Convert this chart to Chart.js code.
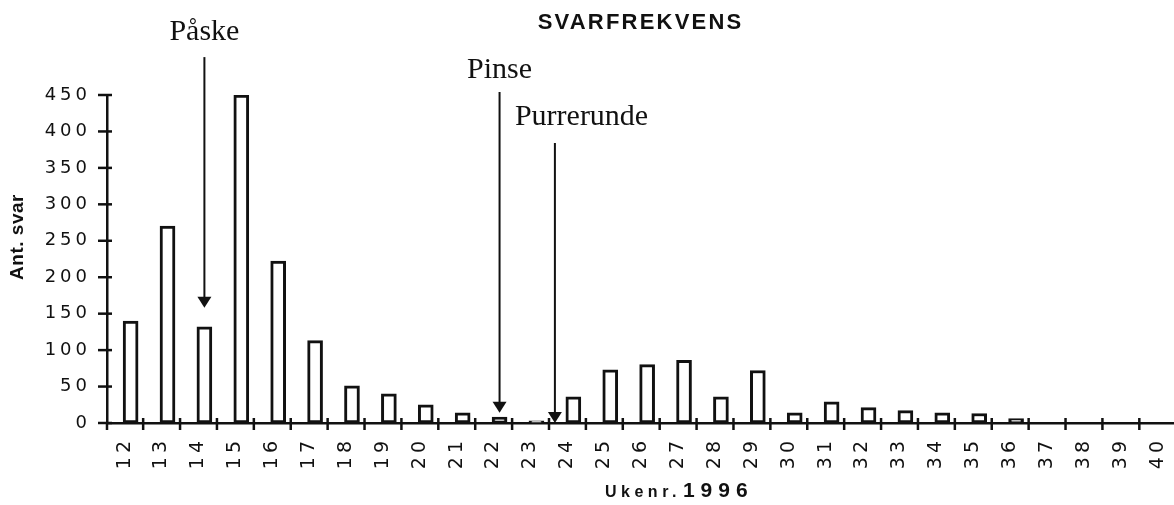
<!DOCTYPE html>
<html><head><meta charset="utf-8">
<script src="https://cdn.jsdelivr.net/npm/chart.js@4/dist/chart.umd.min.js"></script>
<style>html,body{margin:0;padding:0;background:#fff;overflow:hidden}#c{display:block}</style>
</head><body>
<canvas id="c" width="1174" height="505" style="width:1174px;height:505px"></canvas>
<script>
// ---- data ----
const weeks = [12,13,14,15,16,17,18,19,20,21,22,23,24,25,26,27,28,29,30,31,32,33,34,35,36,37,38,39,40];
const answers = [140,270,132,450,222,113,51,40,25,14,8,3,36,73,80,86,36,72,14,29,21,17,14,13,6,0,0,0,0];
const yTicks = [0,50,100,150,200,250,300,350,400,450];
const chartTitle = 'SVARFREKVENS';
const yTitle = 'Ant. svar';
const xTitleA = 'Ukenr.';
const xTitleB = '1996';
// annotations (arrows): label, week, arrow start value, arrow tip value
const noteLabels = ['Påske', 'Pinse', 'Purrerunde'];
const noteWeeks = [14, 22, 23.5];
const noteFrom = [502, 454, 384];
const noteTo = [158, 14, 0];

// ---- styles ----
const INK = '#111';
const noteStyle = [
  {align: 'center', dx: 0, dy: -17},
  {align: 'center', dx: 0, dy: -14},
  {align: 'left', dx: -40, dy: -18}
];

const decor = {
  id: 'decor',
  beforeDraw(chart) { chart.ctx.letterSpacing = '2.2px'; },
  afterDatasetsDraw(chart) { chart.ctx.letterSpacing = '4px'; },
  afterDraw(chart) {
    const ctx = chart.ctx;
    const xs = chart.scales.x, ys = chart.scales.y;
    const area = chart.chartArea;
    ctx.save();
    ctx.letterSpacing = '0px';
    ctx.strokeStyle = INK; ctx.fillStyle = INK;
    // y tick marks (crossing axis)
    ctx.lineWidth = 2.5;
    yTicks.forEach(v => {
      const y = ys.getPixelForValue(v);
      ctx.beginPath(); ctx.moveTo(area.left - 9, y); ctx.lineTo(area.left + 5, y); ctx.stroke();
    });
    // y axis extension below
    ctx.beginPath(); ctx.moveTo(area.left, area.bottom); ctx.lineTo(area.left, area.bottom + 7); ctx.stroke();
    // x tick marks (crossing axis)
    const step = xs.getPixelForValue(13) - xs.getPixelForValue(12);
    weeks.forEach(w => {
      const x = xs.getPixelForValue(w) + step * 0.34;
      if (x > area.right) return;
      ctx.beginPath(); ctx.moveTo(x, area.bottom - 5); ctx.lineTo(x, area.bottom + 7); ctx.stroke();
    });
    // arrows + labels
    noteLabels.forEach((lab, i) => {
      const x = xs.getPixelForValue(noteWeeks[i]);
      const y0 = ys.getPixelForValue(noteFrom[i]);
      const y1 = ys.getPixelForValue(noteTo[i]);
      ctx.lineWidth = 2;
      ctx.beginPath(); ctx.moveTo(x, y0); ctx.lineTo(x, y1 - 10); ctx.stroke();
      ctx.beginPath(); ctx.moveTo(x - 7, y1 - 11); ctx.lineTo(x + 7, y1 - 11); ctx.lineTo(x, y1); ctx.closePath(); ctx.fill();
      const st = noteStyle[i];
      ctx.font = '30px "Liberation Serif", "Times New Roman", serif';
      ctx.textAlign = st.align; ctx.textBaseline = 'alphabetic';
      ctx.fillText(lab, x + st.dx, y0 + st.dy);
    });
    // y axis title
    ctx.save();
    ctx.translate(17.5, 237);
    ctx.rotate(-Math.PI / 2);
    ctx.textAlign = 'center'; ctx.textBaseline = 'middle';
    ctx.font = 'bold 19px "Liberation Sans", Arial, sans-serif';
    ctx.letterSpacing = '0.5px';
    ctx.fillText(yTitle, 0, 0);
    ctx.restore();
    // x axis title
    ctx.textAlign = 'left'; ctx.textBaseline = 'alphabetic';
    ctx.font = 'bold 16px "Liberation Sans", Arial, sans-serif';
    ctx.letterSpacing = '4.5px';
    const xa = 605;
    ctx.fillText(xTitleA, xa, 497);
    const wa = ctx.measureText(xTitleA).width;
    ctx.font = 'bold 21px "Liberation Sans", Arial, sans-serif';
    ctx.letterSpacing = '6px';
    ctx.fillText(xTitleB, xa + wa + 2, 497);
    ctx.restore();
  }
};

new Chart(document.getElementById('c').getContext('2d'), {
  type: 'bar',
  data: {
    datasets: [{
      data: weeks.map((w, i) => ({x: w, y: answers[i]})),
      backgroundColor: '#fff',
      borderColor: INK,
      borderWidth: 3,
      borderSkipped: false,
      barThickness: 15
    }]
  },
  options: {
    responsive: false,
    animation: false,
    devicePixelRatio: 1,
    layout: {padding: 0},
    plugins: {
      legend: {display: false},
      tooltip: {enabled: false},
      title: {
        display: true, text: chartTitle, fullSize: false, color: INK,
        font: {family: '"Liberation Sans", Arial, sans-serif', size: 22, weight: 'bold', lineHeight: 1.2},
        padding: {top: 10, bottom: 58.6}
      }
    },
    scales: {
      x: {
        type: 'linear', min: 11.36, max: 40.28, offset: false,
        grid: {display: false, drawTicks: false, offset: false},
        border: {display: true, color: INK, width: 2.5},
        ticks: {
          z: 1, autoSkip: false, minRotation: 90, maxRotation: 90, padding: 14, labelOffset: -6,
          color: INK, font: {family: '"DejaVu Sans", sans-serif', size: 19},
          callback: v => String(v)
        },
        afterBuildTicks: s => { s.ticks = weeks.map(v => ({value: v})); },
        afterFit: s => { s.height = 82; s.paddingLeft = 0; s.paddingRight = 0; }
      },
      y: {
        min: 0, max: 450,
        grid: {display: false, drawTicks: false},
        border: {display: true, color: INK, width: 2.5},
        ticks: {
          z: 1, padding: 16, color: INK,
          font: {family: '"DejaVu Sans", sans-serif', size: 18},
          callback: v => String(v)
        },
        afterBuildTicks: s => { s.ticks = yTicks.map(v => ({value: v})); },
        afterFit: s => { s.width = 107; s.paddingTop = 0; s.paddingBottom = 0; }
      }
    }
  },
  plugins: [decor]
});
</script>
</body></html>
